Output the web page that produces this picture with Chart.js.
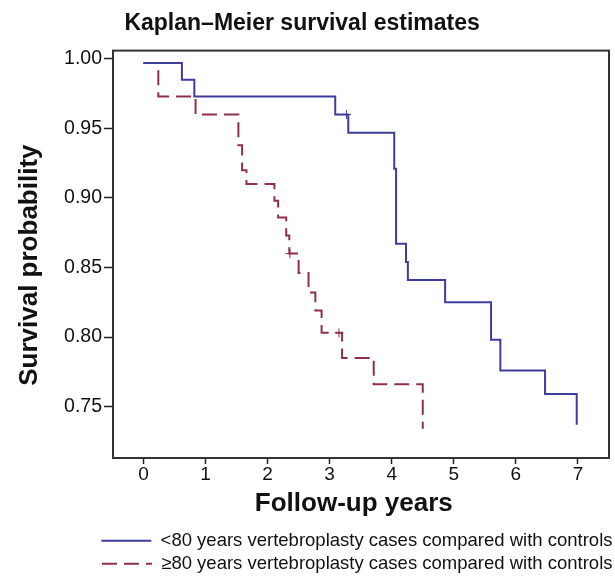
<!DOCTYPE html>
<html>
<head>
<meta charset="utf-8">
<title>Kaplan–Meier survival estimates</title>
<script src="https://cdn.jsdelivr.net/npm/chart.js@4.4.1/dist/chart.umd.min.js"></script>
<style>
  html, body { margin: 0; padding: 0; background: #fff; }
  #wrap { width: 615px; height: 577px; position: relative; }
</style>
</head>
<body>
<div id="wrap"><canvas id="km"></canvas></div>
<script>
// Kaplan-Meier curves (time in years, survival probability)
var under80Years = [0, 0.62, 0.82, 3.09, 3.30, 4.04, 4.07, 4.23, 4.26, 4.86, 5.60, 5.75, 6.47, 6.98];
var under80Surv  = [0.997, 0.985, 0.973, 0.960, 0.947, 0.921, 0.867, 0.854, 0.841, 0.825, 0.798, 0.776, 0.759, 0.737];

var over80Years = [0, 0.24, 0.84, 1.53, 1.59, 1.66, 2.11, 2.17, 2.30, 2.35, 2.50, 2.66, 2.77, 2.87, 3.20, 3.71, 4.50];
var over80Surv  = [0.997, 0.973, 0.960, 0.938, 0.920, 0.910, 0.898, 0.886, 0.873, 0.860, 0.846, 0.832, 0.819, 0.803, 0.785, 0.766, 0.734];

// censored observations (+ marks)
var under80CensYears = [3.27];
var under80CensSurv  = [0.960];
var over80CensYears  = [2.36, 3.15];
var over80CensSurv   = [0.860, 0.803];

var xTicks = [0, 1, 2, 3, 4, 5, 6, 7];
var yTicks = [0.75, 0.80, 0.85, 0.90, 0.95, 1.00];

var seriesLabels = [
  '<80 years vertebroplasty cases compared with controls',
  '\u226580 years vertebroplasty cases compared with controls'
];

var BLUE = '#3d3d9c';
var RED = '#8e3047';
var FONT = '"Liberation Sans", Arial, Helvetica, sans-serif';
var NBSP = '\u00a0';

function toPoints(xs, ys) {
  return xs.map(function (x, i) { return { x: x, y: ys[i] }; });
}

// plot frame (box round the chart area)
var framePlugin = {
  id: 'frame',
  beforeDatasetsDraw: function (chart) {
    var a = chart.chartArea, ctx = chart.ctx;
    ctx.save();
    ctx.strokeStyle = '#333';
    ctx.lineWidth = 2;
    ctx.strokeRect(a.left, a.top, a.right - a.left, a.bottom - a.top);
    ctx.restore();
  }
};

// legend: only the two curves, and keep the dash of the line (point style drops it)
function legendLabels(chart) {
  var items = Chart.defaults.plugins.legend.labels.generateLabels(chart);
  return items.filter(function (it) { return it.datasetIndex < 2; }).map(function (it) {
    var ds = chart.data.datasets[it.datasetIndex];
    it.lineDash = ds.borderDash || [];
    it.strokeStyle = ds.borderColor;
    it.lineWidth = ds.borderWidth;
    return it;
  });
}

new Chart(document.getElementById('km'), {
  type: 'line',
  data: {
    datasets: [
      {
        label: seriesLabels[0],
        data: toPoints(under80Years, under80Surv),
        borderColor: BLUE,
        backgroundColor: BLUE,
        borderWidth: 2,
        stepped: 'before',
        pointRadius: 0,
        fill: false
      },
      {
        label: seriesLabels[1],
        data: toPoints(over80Years, over80Surv),
        borderColor: RED,
        backgroundColor: RED,
        borderWidth: 2,
        borderDash: [15, 7],
        stepped: 'before',
        pointRadius: 0,
        fill: false
      },
      {
        label: 'censored <80',
        data: toPoints(under80CensYears, under80CensSurv),
        showLine: false,
        pointStyle: 'cross',
        pointRadius: 4.5,
        borderWidth: 1,
        borderColor: BLUE
      },
      {
        label: 'censored >=80',
        data: toPoints(over80CensYears, over80CensSurv),
        showLine: false,
        pointStyle: 'cross',
        pointRadius: 4.5,
        borderWidth: 1,
        borderColor: RED
      }
    ]
  },
  options: {
    responsive: true,
    maintainAspectRatio: false,
    animation: false,
    layout: { padding: { left: 0, right: -2, top: 0, bottom: -6 } },
    scales: {
      x: {
        type: 'linear',
        min: -0.49,
        max: 7.5,
        afterBuildTicks: function (s) { s.ticks = xTicks.map(function (v) { return { value: v }; }); },
        afterFit: function (s) { s.height = 69; },
        grid: { display: true, drawOnChartArea: false, drawTicks: true, tickLength: 6, tickColor: '#222', tickWidth: 1.5 },
        border: { display: false },
        ticks: {
          autoSkip: false,
          maxRotation: 0,
          padding: 1,
          color: '#111',
          font: { family: FONT, size: 19, lineHeight: 1 },
          callback: function (v) { return String(v); }
        },
        title: {
          display: true,
          text: 'Follow-up years' + NBSP + NBSP,
          color: '#111',
          font: { family: FONT, size: 26, weight: 'bold' },
          padding: { top: 0, bottom: 8 }
        }
      },
      y: {
        type: 'linear',
        min: 0.713,
        max: 1.006,
        afterBuildTicks: function (s) { s.ticks = yTicks.map(function (v) { return { value: v }; }); },
        afterFit: function (s) { s.width = 113; },
        grid: { display: true, drawOnChartArea: false, drawTicks: true, tickLength: 9, tickColor: '#222', tickWidth: 1.5 },
        border: { display: false },
        ticks: {
          autoSkip: false,
          padding: 2,
          color: '#111',
          font: { family: FONT, size: 19.5 },
          callback: function (v) { return v.toFixed(2); }
        },
        title: {
          display: true,
          text: 'Survival probability' + NBSP + NBSP + NBSP,
          color: '#111',
          font: { family: FONT, size: 26, weight: 'bold' },
          padding: { top: 14, bottom: 0 }
        }
      },
      // empty spacer on the right so the legend can run closer to the edge than the plot box
      yRight: {
        position: 'right',
        display: true,
        grid: { display: false },
        border: { display: false },
        ticks: { display: false },
        afterFit: function (s) { s.width = 8; }
      }
    },
    plugins: {
      title: {
        display: true,
        text: 'Kaplan\u2013Meier survival estimates' + NBSP + NBSP,
        color: '#111',
        font: { family: FONT, size: 23, weight: 'bold', lineHeight: 1.2 },
        padding: { top: 10, bottom: 13 }
      },
      legend: {
        position: 'bottom',
        align: 'end',
        labels: {
          usePointStyle: true,
          pointStyle: 'line',
          pointStyleWidth: 50,
          padding: 4.5,
          color: '#111',
          font: { family: FONT, size: 18.5 },
          generateLabels: legendLabels
        }
      },
      tooltip: { enabled: false }
    }
  },
  plugins: [framePlugin]
});
</script>
</body>
</html>
